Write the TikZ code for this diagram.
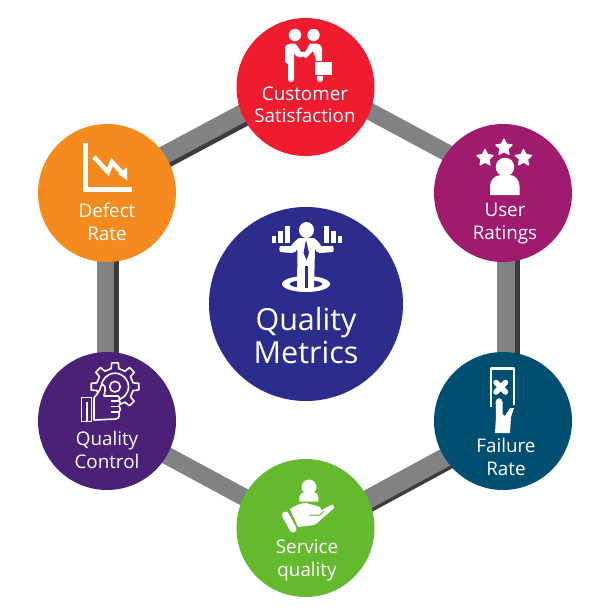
\documentclass[tikz,border=0pt]{standalone}
\usepackage{fontspec}
\setmainfont{Open Sans}
\usetikzlibrary{backgrounds,arrows.meta}
\definecolor{cred}{HTML}{EE1C2E}
\definecolor{cmag}{HTML}{A01A6E}
\definecolor{cteal}{HTML}{004F70}
\definecolor{cgreen}{HTML}{64B92F}
\definecolor{cpurp}{HTML}{4B2077}
\definecolor{corange}{HTML}{F58A1F}
\definecolor{cblue}{HTML}{2B2C8C}
\definecolor{cband}{HTML}{808284}
\definecolor{cdark}{HTML}{3C3C3E}
\tikzset{
  disc/.style={circle,minimum size=138pt,inner sep=0pt,fill=#1,draw=none},
  hub/.style={circle,minimum size=194pt,inner sep=0pt,fill=cblue,draw=none},
  lab/.style={text=white,align=center,inner sep=0pt,font=\fontsize{18.8}{22.3}\selectfont},
  hublab/.style={text=white,align=center,inner sep=0pt,font=\fontsize{30.5}{33}\selectfont},
  band/.style={line width=#1,draw=cband},
  shade/.style={line width=#1,draw=cdark},
  ico/.style={fill=white,draw=none},
  icoline/.style={draw=white,fill=none,line width=#1,line join=round}
}
\newcommand{\starat}[3]{%
  \filldraw[white,line width=1.2pt,line join=round,shift={(#1,#2)}] (90:#3pt)
  \foreach \a in {126,162,...,414}{ -- ({\a}:{#3*(mod(\a-90,72)==0 ? 1 : 0.5)*1pt}) } -- cycle;}
\begin{document}
\begin{tikzpicture}[x=1pt,y=-1pt]
\useasboundingbox (0,0) rectangle (611,611);
\node[disc=cred]    (cs) at (305.5,87) {};
\node[disc=cmag]    (ur) at (503,193) {};
\node[disc=cteal]   (fr) at (503,421) {};
\node[disc=cgreen]  (sq) at (305.5,528) {};
\node[disc=cpurp]   (qc) at (107,421) {};
\node[disc=corange] (dr) at (107,193) {};
\node[hub]          (qm) at (306,304) {};
\begin{pgfonlayer}{background}
\fill[white] (0,0) rectangle (611,611);
% top-right
\draw[band=17pt] ([shift={(4.2,-7.9)}]cs.center) -- ([shift={(4.2,-7.9)}]ur.center);
% right
\draw[shade=5pt] ([shift={(14,0)}]ur.center) -- ([shift={(14,0)}]fr.center);
\draw[band=18pt] ([shift={(3,0)}]ur.center) -- ([shift={(3,0)}]fr.center);
% bottom-right
\draw[shade=4pt] ([shift={(7.3,13.6)}]sq.center) -- ([shift={(7.3,13.6)}]fr.center);
\draw[band=19pt] ([shift={(2.1,4)}]sq.center) -- ([shift={(2.1,4)}]fr.center);
% bottom-left
\draw[band=17.5pt] ([shift={(-1,1.8)}]qc.center) -- ([shift={(-1,1.8)}]sq.center);
% left
\draw[shade=5pt] ([shift={(9.5,0)}]dr.center) -- ([shift={(9.5,0)}]qc.center);
\draw[band=17pt] ([shift={(-1.5,0)}]dr.center) -- ([shift={(-1.5,0)}]qc.center);
% top-left
\draw[shade=5pt] ([shift={(2.1,3.9)}]dr.center) -- ([shift={(2.1,3.9)}]cs.center);
\draw[band=18pt] ([shift={(-3.1,-5.8)}]dr.center) -- ([shift={(-3.1,-5.8)}]cs.center);
\end{pgfonlayer}
% labels
\node[lab] (tcs) at (305,105) {Customer\\Satisfaction};
\node[lab] (tur) at (505,223.5) {User\\Ratings};
\node[lab] (tfr) at (506,457) {Failure\\Rate};
\node[lab] (tsq) at (307,560.5) {Service\\quality};
\node[lab] (tqc) at (107,450) {Quality\\Control};
\node[lab] (tdr) at (107,222) {Defect\\Rate};
\node[hublab] (tqm) at (306,336) {Quality\\Metrics};
% ---- customer icon
\fill[white] (295,35) circle (6.2);
\fill[white] (313.5,35) circle (6.2);
\fill[ico] (285,49) .. controls (285,45) and (288,43.5) .. (291,43.5) -- (294,43.5)
  .. controls (297,44) and (298,47) .. (301,52) -- (308,51.5) -- (308,55) -- (300,57.5)
  .. controls (297,57.5) and (295,55) .. (294,53) -- (294,79) .. controls (294,83) and (288,83) .. (288,79)
  -- (288,64) -- (285,62) -- cycle;
\fill[ico] (310,43.5) -- (316,43.5) .. controls (320,44) and (322,46) .. (322,50) -- (322,60)
  -- (323,79) .. controls (323,83) and (317,83) .. (317,79) -- (315.5,58)
  -- (313,51) -- (306,58) -- (303,56) -- cycle;
\filldraw[fill=white,draw=cred,line width=.8pt] (314.5,61.5) rectangle (332.5,75.5);
% ---- user icon
\starat{504}{147.5}{8.5}
\starat{485}{158}{8.5}
\starat{523.5}{158}{8.5}
\fill[white] (505,167) circle (9.3);
\fill[ico] (490,195) -- (490,186) .. controls (490,180) and (495,175) .. (501,175) -- (510,175)
  .. controls (515,175) and (519.5,180) .. (519.5,186) -- (519.5,195) -- cycle;
% ---- failure icon
\draw[icoline=2.2pt] (491,407) -- (491,368.5) -- (514,368.5) -- (514,405);
\draw[white,line width=5.5pt,line cap=round] (496,382.5) -- (505.5,392) (505.5,382.5) -- (496,392);
\fill[ico] (495.7,402) .. controls (496,397) and (502,397) .. (502.5,402) -- (502.5,414)
  -- (505,416) -- (510,408) -- (514,408) -- (511,417) -- (510,433) -- (495,433) -- (496,417) -- cycle;
% ---- service icon
\fill[white] (309,487) circle (7.5);
\fill[ico] (299.3,501.7) -- (299.3,497) .. controls (299.3,494) and (302,492.3) .. (305,492.3) -- (313.3,492.3)
  .. controls (316,492.3) and (318.3,494) .. (318.3,497) -- (318.3,501.7) -- cycle;
\draw[white,line width=7pt,line cap=round] (285.5,515) -- (293,529);
\fill[ico] (290,509) .. controls (296,505) and (301,503) .. (306,503) -- (317,506)
  .. controls (321,507) and (322,509) .. (320,511) -- (331,505) .. controls (334,504) and (335,507) .. (333,509)
  -- (316,524) .. controls (312,526) and (304,526) .. (298,527) -- cycle;
\draw[cgreen,line width=1pt] (309,515) -- (320,515) -- (324,511);
% ---- quality control icon
\draw[icoline=1.6pt,shift={(115,386.7)}] (8:24pt)
  \foreach \a in {0,45,...,315}{
   -- ({\a+8}:24pt) -- ({\a+12}:18.5pt) -- ({\a+33}:18.5pt) -- ({\a+37}:24pt)
  } -- cycle;
\draw[icoline=1.6pt] (115,386.7) circle (5.3);
\draw[icoline=1.6pt] (115,386.7) circle (13.5);
\fill[cpurp,draw=white,line width=1.6pt,line join=round] (94,398) .. controls (97,394) and (100,391) .. (101,386)
  .. controls (103,383) and (106,386) .. (105,391) -- (104,396) -- (118,396) .. controls (120,396) and (120,399) .. (119,400)
  .. controls (121,402) and (121,405) .. (119,406) .. controls (121,408) and (121,411) .. (119,412)
  .. controls (120,414) and (120,418) .. (116,419) -- (94,420) -- cycle;
\draw[icoline=1.6pt] (111,401) -- (118.5,401) (111,406.5) -- (118.5,406.5) (111,412) -- (118.5,412);
\draw[cpurp,fill=cpurp] (80,396) rectangle (92,423);
\draw[icoline=1.6pt] (81.5,397.5) rectangle (91.5,421.5);
\draw[icoline=1.4pt] (87,402) -- (87,421);
% ---- defect icon
\draw[white,line width=5pt,miter limit=10] (85,143) -- (85,189.5) -- (131.5,189.5);
\draw[white,line width=4.5pt] (94,157) -- (108,172) -- (112,162) -- (123,174);
\fill[ico] (118,174) -- (127,167.5) -- (127,180) -- cycle;
% ---- centre icon
\fill[white,even odd rule] (306,284) ellipse (24 and 8) (306,284) ellipse (16.5 and 4);
\fill[white] (306.5,230) ellipse (7.5 and 8);
\fill[ico] (299,238) -- (314,238) .. controls (317,240) and (321,245) .. (321,246) -- (333,246)
  .. controls (334,248) and (334,250) .. (333,252) -- (320,253) .. controls (317,253) and (316,251) .. (315,249)
  -- (314,288) -- (297,288) -- (297.5,249) .. controls (296,251) and (295,253) .. (292,253) -- (280,252)
  .. controls (279,250) and (279,248) .. (280,246) -- (291,246) .. controls (293,243) and (296,240) .. cycle;
\fill[cblue] (306,240) -- (303.5,253) -- (306.5,260) -- (309,253) -- cycle;
\fill[cblue] (305,266) rectangle (308,288);
\fill[white] (271.5,236) rectangle (276,243);
\fill[white] (278,231) rectangle (282.5,243);
\fill[white] (285,226) rectangle (290,243);
\fill[white] (324,226) rectangle (329,243);
\fill[white] (331,231) rectangle (335.5,243);
\fill[white] (338,236) rectangle (342,243);
\end{tikzpicture}
\end{document}
